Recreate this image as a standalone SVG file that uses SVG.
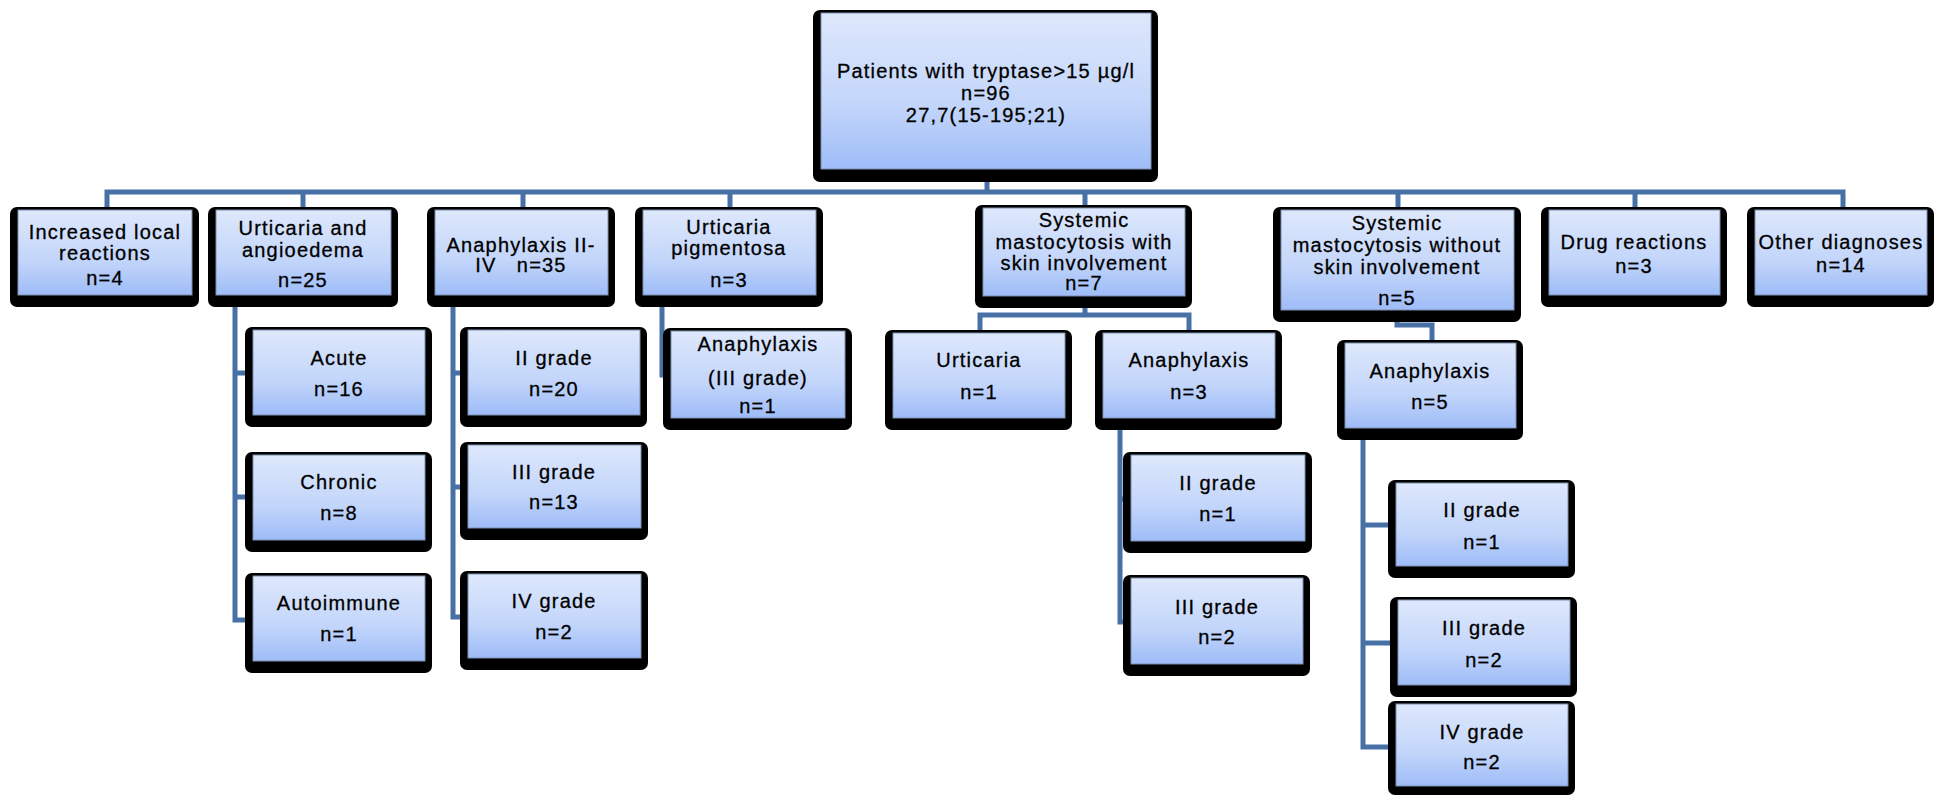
<svg xmlns="http://www.w3.org/2000/svg" width="1939" height="795" viewBox="0 0 1939 795">
<defs>
<linearGradient id="g" x1="0" y1="0" x2="0" y2="1">
<stop offset="0" stop-color="#DEE8FC"/>
<stop offset="0.6" stop-color="#C2D5FA"/>
<stop offset="1" stop-color="#9EBCF8"/>
</linearGradient>
</defs>
<style>
.o{fill:#000}
.i{fill:url(#g);stroke:#7D8FAE;stroke-width:1}
.t{font-family:"Liberation Sans",Arial,sans-serif;font-size:20px;letter-spacing:1.2px;fill:#000;stroke:#000;stroke-width:0.3;text-anchor:middle}
.c{fill:none;stroke:#4670A6;stroke-width:5;stroke-linejoin:miter}
</style>
<rect width="1939" height="795" fill="#fff"/>
<g id="connectors">
<path class="c" d="M987,182 V192"/>
<path class="c" d="M107,207 V192 H1843 V207"/>
<path class="c" d="M303,192 V207 M523,192 V207 M730,192 V207 M1085,192 V207 M1398,192 V207 M1635,192 V207"/>
<path class="c" d="M235,307 V620 H247 M235,373 H247 M235,497 H247"/>
<path class="c" d="M453,307 V617 H462 M453,373 H462 M453,487 H462"/>
<path class="c" d="M662,307 V375 H670"/>
<path class="c" d="M1085,308 V315 M980,330 V315 H1189 V330"/>
<path class="c" d="M1120,430 V622 H1125 M1120,499 H1125"/>
<path class="c" d="M1397,322 V325 H1432 V340"/>
<path class="c" d="M1363,440 V747 H1390 M1363,525 H1390 M1363,643 H1392"/>
</g>
<g id="root">
<rect class="o" x="813" y="10" width="345" height="172" rx="7"/>
<rect class="i" x="821" y="13" width="330" height="156"/>
<text class="t" x="986" y="78">Patients with tryptase&gt;15 µg/l</text>
<text class="t" x="986" y="100">n=96</text>
<text class="t" x="986" y="122">27,7(15-195;21)</text>
</g>
<g id="n-increased-local">
<rect class="o" x="10" y="207" width="189" height="100" rx="7"/>
<rect class="i" x="18" y="210" width="174" height="85"/>
<text class="t" x="105" y="239">Increased local</text>
<text class="t" x="105" y="260">reactions</text>
<text class="t" x="105" y="285">n=4</text>
</g>
<g id="n-urticaria-angioedema">
<rect class="o" x="208" y="207" width="190" height="100" rx="7"/>
<rect class="i" x="216" y="210" width="175" height="85"/>
<text class="t" x="303" y="235">Urticaria and</text>
<text class="t" x="303" y="257">angioedema</text>
<text class="t" x="303" y="287">n=25</text>
</g>
<g id="n-anaphylaxis">
<rect class="o" x="427" y="207" width="188" height="100" rx="7"/>
<rect class="i" x="435" y="210" width="173" height="85"/>
<text class="t" x="521" y="252">Anaphylaxis II-</text>
<text class="t" x="521" y="272" style="white-space:pre">IV   n=35</text>
</g>
<g id="n-urticaria-pigmentosa">
<rect class="o" x="635" y="207" width="188" height="100" rx="7"/>
<rect class="i" x="643" y="210" width="173" height="85"/>
<text class="t" x="729" y="234">Urticaria</text>
<text class="t" x="729" y="255">pigmentosa</text>
<text class="t" x="729" y="287">n=3</text>
</g>
<g id="n-sm-skin">
<rect class="o" x="975" y="205" width="217" height="103" rx="7"/>
<rect class="i" x="983" y="208" width="202" height="88"/>
<text class="t" x="1084" y="227">Systemic</text>
<text class="t" x="1084" y="249">mastocytosis with</text>
<text class="t" x="1084" y="270">skin involvement</text>
<text class="t" x="1084" y="290">n=7</text>
</g>
<g id="n-sm-noskin">
<rect class="o" x="1273" y="207" width="248" height="115" rx="7"/>
<rect class="i" x="1281" y="210" width="233" height="100"/>
<text class="t" x="1397" y="230">Systemic</text>
<text class="t" x="1397" y="252">mastocytosis without</text>
<text class="t" x="1397" y="274">skin involvement</text>
<text class="t" x="1397" y="305">n=5</text>
</g>
<g id="n-drug">
<rect class="o" x="1541" y="207" width="186" height="100" rx="7"/>
<rect class="i" x="1549" y="210" width="171" height="85"/>
<text class="t" x="1634" y="249">Drug reactions</text>
<text class="t" x="1634" y="273">n=3</text>
</g>
<g id="n-other">
<rect class="o" x="1747" y="207" width="187" height="100" rx="7"/>
<rect class="i" x="1755" y="210" width="172" height="85"/>
<text class="t" x="1841" y="249">Other diagnoses</text>
<text class="t" x="1841" y="272">n=14</text>
</g>
<g id="n-acute">
<rect class="o" x="245" y="327" width="187" height="100" rx="7"/>
<rect class="i" x="253" y="330" width="172" height="85"/>
<text class="t" x="339" y="365">Acute</text>
<text class="t" x="339" y="396">n=16</text>
</g>
<g id="n-chronic">
<rect class="o" x="245" y="452" width="187" height="100" rx="7"/>
<rect class="i" x="253" y="455" width="172" height="85"/>
<text class="t" x="339" y="489">Chronic</text>
<text class="t" x="339" y="520">n=8</text>
</g>
<g id="n-autoimmune">
<rect class="o" x="245" y="573" width="187" height="100" rx="7"/>
<rect class="i" x="253" y="576" width="172" height="85"/>
<text class="t" x="339" y="610">Autoimmune</text>
<text class="t" x="339" y="641">n=1</text>
</g>
<g id="n-ana-ii">
<rect class="o" x="460" y="327" width="187" height="100" rx="7"/>
<rect class="i" x="468" y="330" width="172" height="85"/>
<text class="t" x="554" y="365">II grade</text>
<text class="t" x="554" y="396">n=20</text>
</g>
<g id="n-ana-iii">
<rect class="o" x="460" y="442" width="188" height="98" rx="7"/>
<rect class="i" x="468" y="445" width="173" height="83"/>
<text class="t" x="554" y="479">III grade</text>
<text class="t" x="554" y="509">n=13</text>
</g>
<g id="n-ana-iv">
<rect class="o" x="460" y="571" width="188" height="99" rx="7"/>
<rect class="i" x="468" y="574" width="173" height="84"/>
<text class="t" x="554" y="608">IV grade</text>
<text class="t" x="554" y="639">n=2</text>
</g>
<g id="n-up-anaphylaxis">
<rect class="o" x="663" y="328" width="189" height="102" rx="7"/>
<rect class="i" x="671" y="331" width="174" height="87"/>
<text class="t" x="758" y="351">Anaphylaxis</text>
<text class="t" x="758" y="385">(III grade)</text>
<text class="t" x="758" y="413">n=1</text>
</g>
<g id="n-sms-urticaria">
<rect class="o" x="885" y="330" width="187" height="100" rx="7"/>
<rect class="i" x="893" y="333" width="172" height="85"/>
<text class="t" x="979" y="367">Urticaria</text>
<text class="t" x="979" y="399">n=1</text>
</g>
<g id="n-sms-anaphylaxis">
<rect class="o" x="1095" y="330" width="187" height="100" rx="7"/>
<rect class="i" x="1103" y="333" width="172" height="85"/>
<text class="t" x="1189" y="367">Anaphylaxis</text>
<text class="t" x="1189" y="399">n=3</text>
</g>
<g id="n-sms-ii">
<rect class="o" x="1123" y="452" width="189" height="101" rx="7"/>
<rect class="i" x="1131" y="455" width="174" height="86"/>
<text class="t" x="1218" y="490">II grade</text>
<text class="t" x="1218" y="521">n=1</text>
</g>
<g id="n-sms-iii">
<rect class="o" x="1123" y="575" width="187" height="101" rx="7"/>
<rect class="i" x="1131" y="578" width="172" height="86"/>
<text class="t" x="1217" y="614">III grade</text>
<text class="t" x="1217" y="644">n=2</text>
</g>
<g id="n-smn-anaphylaxis">
<rect class="o" x="1337" y="340" width="186" height="100" rx="7"/>
<rect class="i" x="1345" y="343" width="171" height="85"/>
<text class="t" x="1430" y="378">Anaphylaxis</text>
<text class="t" x="1430" y="409">n=5</text>
</g>
<g id="n-smn-ii">
<rect class="o" x="1388" y="480" width="187" height="98" rx="7"/>
<rect class="i" x="1396" y="483" width="172" height="83"/>
<text class="t" x="1482" y="517">II grade</text>
<text class="t" x="1482" y="549">n=1</text>
</g>
<g id="n-smn-iii">
<rect class="o" x="1390" y="597" width="187" height="100" rx="7"/>
<rect class="i" x="1398" y="600" width="172" height="85"/>
<text class="t" x="1484" y="635">III grade</text>
<text class="t" x="1484" y="667">n=2</text>
</g>
<g id="n-smn-iv">
<rect class="o" x="1388" y="701" width="187" height="94" rx="7"/>
<rect class="i" x="1396" y="704" width="172" height="82"/>
<text class="t" x="1482" y="739">IV grade</text>
<text class="t" x="1482" y="769">n=2</text>
</g>
</svg>
